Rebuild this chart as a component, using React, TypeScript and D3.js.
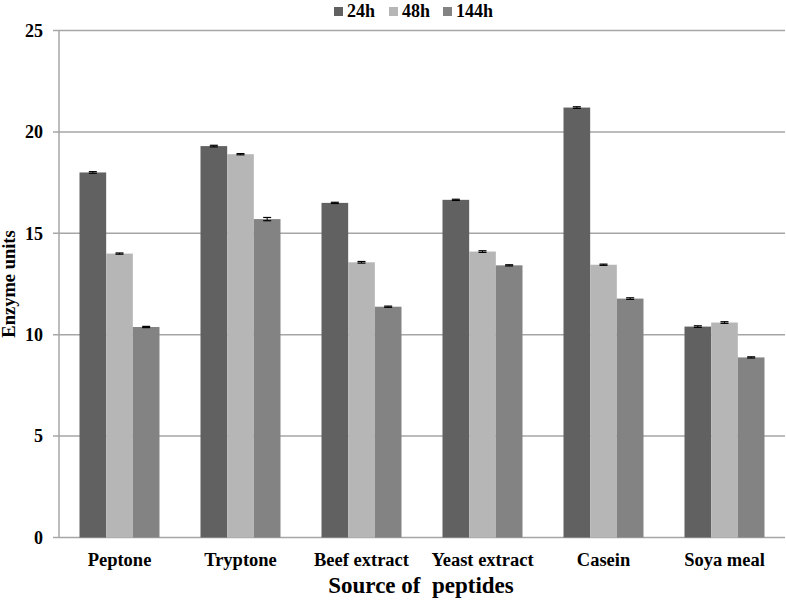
import React from "react";
import * as d3 from "d3";

const categories = ["Peptone", "Tryptone", "Beef extract", "Yeast extract", "Casein", "Soya meal"];
const seriesNames = ["24h", "48h", "144h"];
const values24h = [18.0, 19.3, 16.5, 16.65, 21.2, 10.4];
const values48h = [14.0, 18.9, 13.57, 14.1, 13.45, 10.6];
const values144h = [10.38, 15.7, 11.38, 13.42, 11.78, 8.88];
const errors24h = [0.04, 0.04, 0.03, 0.03, 0.04, 0.04];
const errors48h = [0.03, 0.03, 0.04, 0.04, 0.03, 0.04];
const errors144h = [0.03, 0.08, 0.03, 0.03, 0.04, 0.03];
const yTicks = [0, 5, 10, 15, 20, 25];
const colors = ["#616161", "#b6b6b6", "#838383"];

const W = 786;
const H = 600;
const left = 59;
const right = 785;
const top = 30.5;
const bottom = 537.5;

export default function App() {
  const series = [values24h, values48h, values144h];
  const errs = [errors24h, errors48h, errors144h];
  const y = d3.scaleLinear().domain([0, 25]).range([bottom, top]);
  const x0 = d3.scaleBand<string>().domain(categories).range([left, right]).paddingInner(0).paddingOuter(0);
  const groupW = 80;
  const x1 = d3.scaleBand<string>().domain(seriesNames).range([0, groupW]).padding(0);
  const font = "'Liberation Serif', 'Times New Roman', serif";
  const legendX = [334, 389, 443];

  return (
    <svg width={W} height={H} style={{ position: "absolute", left: 0, top: 0 }} fontFamily={font}>
      <rect width={W} height={H} fill="#fff" />
      {yTicks.map((t) => (
        <g key={t}>
          <line x1={53} x2={right} y1={y(t)} y2={y(t)} stroke="#a6a6a6" strokeWidth={1.5} />
          <text x={43} y={y(t)} dy="0.35em" textAnchor="end" fontSize={18} fontWeight="bold">
            {t}
          </text>
        </g>
      ))}
      <line x1={left} x2={left} y1={top} y2={bottom} stroke="#a6a6a6" strokeWidth={1.5} />
      {categories.map((c, i) => {
        const gx = (x0(c) as number) + (x0.bandwidth() - groupW) / 2;
        return (
          <g key={c}>
            {seriesNames.map((s, j) => {
              const v = series[j][i];
              const bx = gx + (x1(s) as number);
              const bw = x1.bandwidth();
              const e = errs[j][i];
              const cx = bx + bw / 2;
              return (
                <g key={s}>
                  <rect x={bx} y={y(v)} width={bw} height={bottom - y(v)} fill={colors[j]} />
                  <line x1={cx} x2={cx} y1={y(v + e)} y2={y(v - e)} stroke="#000" strokeWidth={1} />
                  <line x1={cx - 4} x2={cx + 4} y1={y(v + e)} y2={y(v + e)} stroke="#000" strokeWidth={1.2} />
                  <line x1={cx - 4} x2={cx + 4} y1={y(v - e)} y2={y(v - e)} stroke="#000" strokeWidth={1.2} />
                </g>
              );
            })}
            <text x={(x0(c) as number) + x0.bandwidth() / 2} y={566} textAnchor="middle" fontSize={18.5} fontWeight="bold">
              {c}
            </text>
          </g>
        );
      })}
      <text x={421} y={593} textAnchor="middle" fontSize={23} fontWeight="bold" style={{ whiteSpace: "pre" }}>
        {"Source of  peptides"}
      </text>
      <text
        transform={`translate(15, ${(top + bottom) / 2}) rotate(-90)`}
        textAnchor="middle"
        fontSize={18.5}
        fontWeight="bold"
      >
        Enzyme units
      </text>
      {seriesNames.map((s, j) => (
        <g key={s}>
          <rect x={legendX[j]} y={7} width={9} height={9} fill={colors[j]} />
          <text x={legendX[j] + 13} y={17} fontSize={18} fontWeight="bold">
            {s}
          </text>
        </g>
      ))}
    </svg>
  );
}
